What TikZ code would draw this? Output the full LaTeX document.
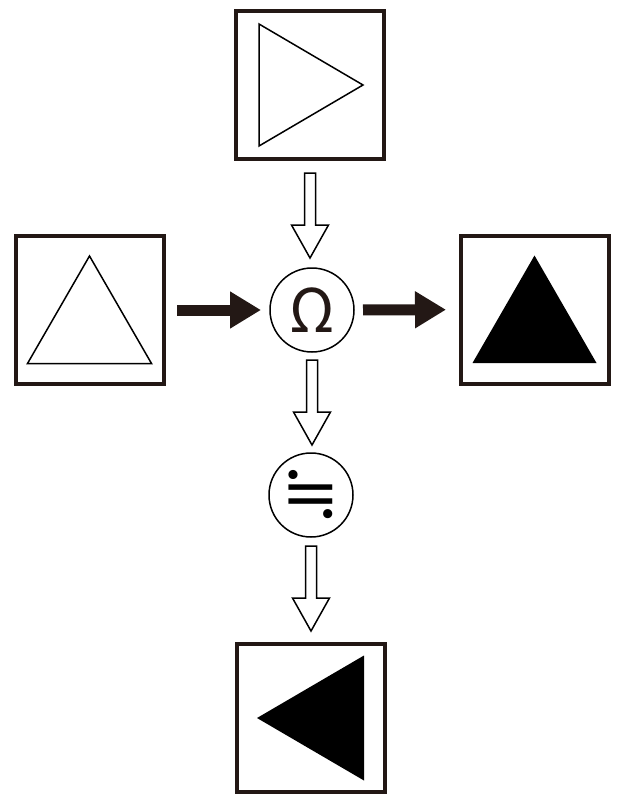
\documentclass[tikz,border=0pt]{standalone}
\usepackage{fontspec}
\newfontfamily\jpfont{Noto Sans CJK JP}
\newfontfamily\symfont{DejaVu Serif}
\usetikzlibrary{calc,arrows.meta}
\definecolor{ink}{RGB}{35,24,21}

\begin{document}
\begin{tikzpicture}[x=1pt,y=-1pt,
    box/.style={draw=ink,line width=4pt,minimum size=148pt,inner sep=0pt,outer sep=0pt},
    op/.style={draw,circle,line width=1.5pt,minimum size=84pt,inner sep=0pt,outer sep=0pt},
    tri/.style={line width=1.5pt,line join=miter},
    fatarrow/.style={draw=ink,line width=11pt,-{Triangle[length=31pt,width=35pt]}},
    hollowarrow/.pic={\draw[line width=1.5pt,line join=miter] (-5.5,0) -- (-5.5,#1-33) -- (-18.5,#1-33) -- (0,#1) -- (18.5,#1-33) -- (5.5,#1-33) -- (5.5,0) -- cycle;}]
    \useasboundingbox (0,0) rectangle (620,800);

    \node[box] (top) at (310,85) {};
    \node[box] (left) at (89.5,310) {};
    \node[box] (right) at (534.5,309.5) {};
    \node[box] (bottom) at (310.5,718) {};
    \node[op,text=ink,font=\jpfont\fontsize{60}{60}\selectfont] (omega) at (312,310) {Ω};
    \node[op,font=\symfont\fontsize{70}{70}\selectfont] (approx) at (311,495) {≒};

    % triangles in the boxes
    \draw[tri,shift={(top.center)}] (-51,-61) -- (-51,61) -- (53,0) -- cycle;
    \draw[tri,shift={(left.center)}] (-62,53.5) -- (62,53.5) -- (0,-54) -- cycle;
    \fill[tri,shift={(right.center)}] (-62,53.5) -- (62,53.5) -- (0,-54) -- cycle;
    \fill[tri,shift={(bottom.center)}] (-53.5,0) -- (53.5,-62.5) -- (53.5,62.5) -- cycle;

    \draw[fatarrow,shorten <=13.5pt,shorten >=9pt] (left) -- (omega);
    \draw[fatarrow,shorten <=9pt,shorten >=14.5pt] (omega) -- (right);

    \pic at ($(top.south)+(0,14)$) {hollowarrow=85};
    \pic at ($(omega.south)+(0,8)$) {hollowarrow=85};
    \pic at ($(approx.south)+(0,9)$) {hollowarrow=85};
\end{tikzpicture}
\end{document}
